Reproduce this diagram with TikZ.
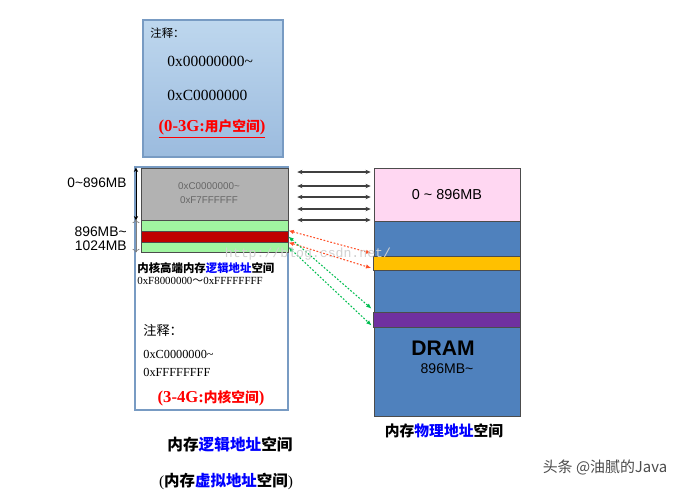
\documentclass[tikz,border=0pt]{standalone}
\usepackage{fontspec}
\setmainfont{Liberation Serif}
\newfontfamily\arial{Liberation Sans}
\newfontfamily\cjk{Noto Sans CJK SC}
\newfontfamily\mono{Liberation Mono}
\usepackage{xcolor}
\usepackage{tikz}
\usetikzlibrary{arrows.meta}
\usetikzlibrary{fit,calc}

\definecolor{topblue}{RGB}{190,215,238}
\definecolor{botblue}{RGB}{155,187,222}
\definecolor{boxedge}{RGB}{120,155,195}
\definecolor{lowgray}{RGB}{178,178,178}
\definecolor{hgreen}{RGB}{160,245,160}
\definecolor{hred}{RGB}{192,0,0}
\definecolor{lowpink}{RGB}{255,215,242}
\definecolor{dramblue}{RGB}{79,129,189}
\definecolor{hyellow}{RGB}{255,192,0}
\definecolor{hpurple}{RGB}{112,48,160}
\definecolor{linkblue}{RGB}{0,0,255}
\definecolor{mapred}{RGB}{255,80,40}
\definecolor{mapgreen}{RGB}{0,190,80}

\begin{document}
\begin{tikzpicture}[x=0.02cm, y=-0.02cm,
  every node/.style={inner sep=0pt},
  area/.style={fit={#1}, inner sep=0pt, draw=black!70, line width=0.5pt},
  maparrow/.style={{Stealth[length=3pt,width=2.5pt]}-{Stealth[length=3pt,width=2.5pt]},
    draw=black!75, line width=0.7pt, shorten <=5pt, shorten >=1.6pt},
  dotmap/.style={{Latex[length=3pt,width=2.5pt]}-{Latex[length=3pt,width=2.5pt]},
    draw=#1, line width=0.6pt, dash pattern=on 1pt off 1pt, shorten >=0.8pt},
  ]
\tikzset{hex/.style={font=\fontsize{7}{10.2}\selectfont}}

  \path[use as bounding box, fill=white] (0,0) rectangle (682,495);

  % user space note
  \node[area={(143,20) (283,157)}, draw=boxedge, line width=1pt,
        top color=topblue, bottom color=botblue] (usernote) {};
  \node[anchor=west, font=\cjk\fontsize{6.5}{7}\selectfont] (usertitle) at (150,33) {注释：};
  \node[anchor=west, font=\fontsize{8.8}{10}\selectfont] (userlo) at (167,61) {0x00000000\textasciitilde};
  \node[anchor=west, font=\fontsize{8.8}{10}\selectfont] (userhi) at (167,95) {0xC0000000};
  \node[font=\bfseries\fontsize{9.5}{12}\selectfont, text=red] (userspace) at (212,129)
    {\underline{(0-3G:{\cjk\fontsize{7.8}{8}\selectfont 用户空间})}};

  % kernel logical space
  \node[area={(135,167) (288,410)}, draw=boxedge, line width=1pt, fill=white] (kernel) {};
  \node[area={(141,168) (288,220)}, fill=lowgray] (lowmem) {};
  \node[area={(141,220) (288,231)}, fill=hgreen] (himemA) {};
  \node[area={(141,231) (288,242)}, fill=hred] (himemB) {};
  \node[area={(141,242) (288,252)}, fill=hgreen] (himemC) {};

  \draw[{Stealth[length=2.5pt,width=2.5pt]}-{Stealth[length=2.5pt,width=2.5pt]}, line width=0.4pt]
    (136,0 |- lowmem.north west) -- (136,0 |- lowmem.south west);
  \draw[{To[length=2pt,width=4pt]}-{To[length=2pt,width=4pt]}, draw=black!50, line width=0.4pt]
    (136,0 |- himemA.north west) -- (136,0 |- himemC.south west);

  \node[font=\arial\fontsize{7.8}{9}\selectfont] (lowlbl) at (97,183) {0\textasciitilde896MB};
  \node[anchor=east, align=right, font=\arial\fontsize{7.9}{8}\selectfont] (highlbl) at (127,239)
    {896MB\textasciitilde\\1024MB};

  \node[align=center, text=black!60, font=\arial\fontsize{5.6}{8}\selectfont] (lowtext) at (209,193)
    {0xC0000000\textasciitilde\\0xF7FFFFFF};

  \node[anchor=west, font=\cjk\bfseries\fontsize{6.5}{7}\selectfont] (hightitle) at (137,268)
    {内核高端内存\textcolor{linkblue}{逻辑地址}空间};
  \node[anchor=west, font=\fontsize{6.2}{7}\selectfont] (highrange) at (137,281)
    {0xF8000000{\cjk ～}0xFFFFFFFF};

  \node[anchor=west, font=\cjk\fontsize{7.5}{8}\selectfont] (kerntitle) at (143,330) {注释：};
  \node[anchor=west, align=left, hex] (kernrange) at (143,363) {0xC0000000\textasciitilde\\0xFFFFFFFF};
  \node[font=\bfseries\fontsize{9.5}{12}\selectfont, text=red] (kernspace) at (211,398)
    {(3-4G:{\cjk\fontsize{7.8}{8}\selectfont 内核空间})};

  % physical memory
  \node[area={(374,168) (520,416)}, fill=dramblue] (dram) {};
  \node[area={(374,168) (520,221)}, fill=lowpink] (dramlow) {};
  \node[area={(373,256) (520,270)}, fill=hyellow] (dramA) {};
  \node[area={(373,312) (520,327)}, fill=hpurple] (dramB) {};

  \node[font=\arial\fontsize{8.2}{9}\selectfont] (lowphys) at (447,195) {0 \textasciitilde{} 896MB};
  \node[font=\arial\bfseries\fontsize{12}{13}\selectfont] (dramname) at (443,348) {DRAM};
  \node[font=\arial\fontsize{8}{9}\selectfont] (dramsize) at (447,369) {896MB\textasciitilde};

  % mappings
  \foreach \y in {172,186,197,209,220}
    \draw[maparrow] (lowmem.east |- 0,\y) -- (dramlow.west |- 0,\y);

  \draw[dotmap=mapred] (himemB.north east) -- ($(dramA.north west)+(0,-2)$);
  \draw[dotmap=mapred] (himemB.south east) -- ($(dramA.south west)+(0,-2)$);
  \draw[dotmap=mapgreen] (himemB.east) -- ($(dramB.north west)+(0,-2)$);
  \draw[dotmap=mapgreen] (himemC.east) -- ($(dramB.south west)+(0,-1)$);

  % captions
  \node[font=\cjk\bfseries\fontsize{8.4}{9}\selectfont] (physcap) at (444,431)
    {内存\textcolor{linkblue}{物理地址}空间};
  \node[font=\cjk\bfseries\fontsize{8.9}{9}\selectfont] (logcap) at (230,445)
    {内存\textcolor{linkblue}{逻辑地址}空间};
  \node[font=\fontsize{8.8}{9}\selectfont] (virtcap) at (226,481)
    {({\cjk\bfseries 内存\textcolor{linkblue}{虚拟地址}空间})};

  \node[font=\mono\fontsize{7.5}{8}\selectfont, text=black!18] (csdnmark) at (308,254) {http://blog.csdn.net/};
  \node[font=\cjk\fontsize{8.5}{9}\selectfont, text=black!70] (toutiao) at (605,467) {头条 @油腻的Java};

\end{tikzpicture}
\end{document}
